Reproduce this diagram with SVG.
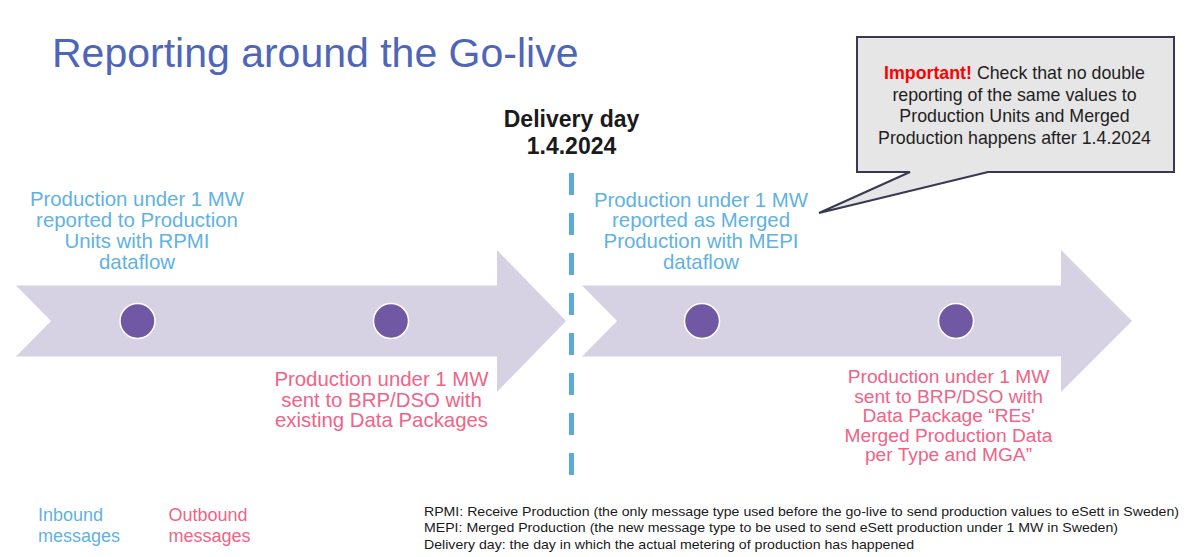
<svg xmlns="http://www.w3.org/2000/svg" width="1186" height="557" viewBox="0 0 1186 557">
<style>
  text { font-family: "Liberation Sans", Arial, sans-serif; }
  .title { font-size: 41px; fill: #4f66b8; }
  .day { font-size: 23px; font-weight: bold; fill: #1a1a1a; text-anchor: middle; }
  .arrow { fill: #d6d2e4; }
  .dot { fill: #7158a5; stroke: #ffffff; stroke-width: 1.5; }
  .in { fill: #5fb2e2; text-anchor: middle; }
  .out { fill: #ef6487; text-anchor: middle; }
  .callout { fill: #e6e6e6; stroke: #383852; stroke-width: 2; stroke-linejoin: miter; }
  .ctext { font-size: 17.8px; fill: #1f1f1f; text-anchor: middle; }
  .imp { fill: #ff0000; font-weight: bold; }
  .legend { font-size: 18px; }
  .note { font-size: 13px; fill: #1a1a1a; }
  .divider { stroke: #5aaadb; stroke-width: 5; stroke-dasharray: 22 18; fill: none; }
</style>

<g id="title">
  <text class="title" x="52" y="66.5">Reporting around the Go-live</text>
</g>

<g id="delivery-day">
  <text class="day" x="571.5" y="126.5">Delivery day</text>
  <text class="day" x="571.5" y="154">1.4.2024</text>
</g>

<g id="arrow-before">
  <polygon class="arrow" points="16,285.5 497,285.5 497,250 566,321 497,392 497,356.5 16,356.5 51,321"/>
</g>
<g id="arrow-after">
  <polygon class="arrow" points="582,285.5 1061,285.5 1061,250 1132,321 1061,392 1061,356.5 582,356.5 617,321"/>
</g>

<g id="connectors">
  <line class="divider" x1="571.5" y1="173" x2="571.5" y2="477"/>
</g>

<g id="dot-1"><circle class="dot" cx="137.5" cy="321" r="17.5"/></g>
<g id="dot-2"><circle class="dot" cx="391" cy="321" r="17.5"/></g>
<g id="dot-3"><circle class="dot" cx="702" cy="321" r="17.5"/></g>
<g id="dot-4"><circle class="dot" cx="956" cy="321" r="17.5"/></g>

<g id="label-rpmi" class="in" font-size="20.4">
  <text x="137" y="205.5">Production under 1 MW</text>
  <text x="137" y="226.5">reported to Production</text>
  <text x="137" y="247.5">Units with RPMI</text>
  <text x="137" y="268.5">dataflow</text>
</g>

<g id="label-existing" class="out" font-size="20.4">
  <text x="381.5" y="386">Production under 1 MW</text>
  <text x="381.5" y="406.5">sent to BRP/DSO with</text>
  <text x="381.5" y="427">existing Data Packages</text>
</g>

<g id="label-mepi" class="in" font-size="20.4">
  <text x="701" y="206.5">Production under 1 MW</text>
  <text x="701" y="227">reported as Merged</text>
  <text x="701" y="248">Production with MEPI</text>
  <text x="701" y="269">dataflow</text>
</g>

<g id="label-merged" class="out" font-size="19.2">
  <text x="948.5" y="382.5">Production under 1 MW</text>
  <text x="948.5" y="402.5">sent to BRP/DSO with</text>
  <text x="948.5" y="422">Data Package “REs'</text>
  <text x="948.5" y="441.5">Merged Production Data</text>
  <text x="948.5" y="461">per Type and MGA”</text>
</g>

<g id="callout">
  <path class="callout" d="M857,37 H1174 V172 H988 L819,213 L910,172 H857 Z"/>
  <text class="ctext" x="1014.5" y="79"><tspan class="imp">Important!</tspan> Check that no double</text>
  <text class="ctext" x="1014.5" y="100.5">reporting of the same values to</text>
  <text class="ctext" x="1014.5" y="122">Production Units and Merged</text>
  <text class="ctext" x="1014.5" y="143.5">Production happens after 1.4.2024</text>
</g>

<g id="legend-inbound" class="legend" fill="#5fb2e2">
  <text x="38" y="521">Inbound</text>
  <text x="38" y="542">messages</text>
</g>
<g id="legend-outbound" class="legend" fill="#ef6487">
  <text x="168.5" y="521">Outbound</text>
  <text x="168.5" y="542">messages</text>
</g>

<g id="notes" class="note">
  <text x="424" y="515.5" textLength="755" lengthAdjust="spacingAndGlyphs">RPMI: Receive Production (the only message type used before the go-live to send production values to eSett in Sweden)</text>
  <text x="424" y="532" textLength="694" lengthAdjust="spacingAndGlyphs">MEPI: Merged Production (the new message type to be used to send eSett production under 1 MW in Sweden)</text>
  <text x="424" y="548.5" textLength="490" lengthAdjust="spacingAndGlyphs">Delivery day: the day in which the actual metering of production has happened</text>
</g>
</svg>
